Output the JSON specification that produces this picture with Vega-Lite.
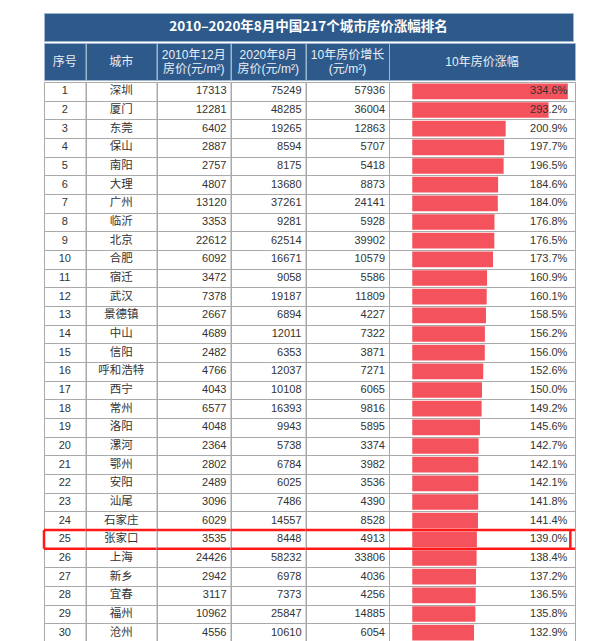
{
  "$schema": "https://vega.github.io/schema/vega-lite/v6.json",
  "padding": {"left": 42, "top": 12, "right": 32, "bottom": 2},
  "background": "white",
  "spacing": 0,
  "config": {
    "view": {"stroke": "#a9a9a9", "strokeWidth": 1},
    "concat": {"spacing": 0},
    "text": {"font": "Liberation Sans, Noto Sans CJK SC, sans-serif", "fontSize": 11, "color": "#333333"}
  },
  "datasets": {
    "rows": [
      {"rank": 1, "city": "深圳", "p2010": 17313, "p2020": 75249, "inc": 57936, "growth": 3.346},
      {"rank": 2, "city": "厦门", "p2010": 12281, "p2020": 48285, "inc": 36004, "growth": 2.932},
      {"rank": 3, "city": "东莞", "p2010": 6402, "p2020": 19265, "inc": 12863, "growth": 2.009},
      {"rank": 4, "city": "保山", "p2010": 2887, "p2020": 8594, "inc": 5707, "growth": 1.977},
      {"rank": 5, "city": "南阳", "p2010": 2757, "p2020": 8175, "inc": 5418, "growth": 1.965},
      {"rank": 6, "city": "大理", "p2010": 4807, "p2020": 13680, "inc": 8873, "growth": 1.846},
      {"rank": 7, "city": "广州", "p2010": 13120, "p2020": 37261, "inc": 24141, "growth": 1.840},
      {"rank": 8, "city": "临沂", "p2010": 3353, "p2020": 9281, "inc": 5928, "growth": 1.768},
      {"rank": 9, "city": "北京", "p2010": 22612, "p2020": 62514, "inc": 39902, "growth": 1.765},
      {"rank": 10, "city": "合肥", "p2010": 6092, "p2020": 16671, "inc": 10579, "growth": 1.737},
      {"rank": 11, "city": "宿迁", "p2010": 3472, "p2020": 9058, "inc": 5586, "growth": 1.609},
      {"rank": 12, "city": "武汉", "p2010": 7378, "p2020": 19187, "inc": 11809, "growth": 1.601},
      {"rank": 13, "city": "景德镇", "p2010": 2667, "p2020": 6894, "inc": 4227, "growth": 1.585},
      {"rank": 14, "city": "中山", "p2010": 4689, "p2020": 12011, "inc": 7322, "growth": 1.562},
      {"rank": 15, "city": "信阳", "p2010": 2482, "p2020": 6353, "inc": 3871, "growth": 1.560},
      {"rank": 16, "city": "呼和浩特", "p2010": 4766, "p2020": 12037, "inc": 7271, "growth": 1.526},
      {"rank": 17, "city": "西宁", "p2010": 4043, "p2020": 10108, "inc": 6065, "growth": 1.500},
      {"rank": 18, "city": "常州", "p2010": 6577, "p2020": 16393, "inc": 9816, "growth": 1.492},
      {"rank": 19, "city": "洛阳", "p2010": 4048, "p2020": 9943, "inc": 5895, "growth": 1.456},
      {"rank": 20, "city": "漯河", "p2010": 2364, "p2020": 5738, "inc": 3374, "growth": 1.427},
      {"rank": 21, "city": "鄂州", "p2010": 2802, "p2020": 6784, "inc": 3982, "growth": 1.421},
      {"rank": 22, "city": "安阳", "p2010": 2489, "p2020": 6025, "inc": 3536, "growth": 1.421},
      {"rank": 23, "city": "汕尾", "p2010": 3096, "p2020": 7486, "inc": 4390, "growth": 1.418},
      {"rank": 24, "city": "石家庄", "p2010": 6029, "p2020": 14557, "inc": 8528, "growth": 1.414},
      {"rank": 25, "city": "张家口", "p2010": 3535, "p2020": 8448, "inc": 4913, "growth": 1.390},
      {"rank": 26, "city": "上海", "p2010": 24426, "p2020": 58232, "inc": 33806, "growth": 1.384},
      {"rank": 27, "city": "新乡", "p2010": 2942, "p2020": 6978, "inc": 4036, "growth": 1.372},
      {"rank": 28, "city": "宜春", "p2010": 3117, "p2020": 7373, "inc": 4256, "growth": 1.365},
      {"rank": 29, "city": "福州", "p2010": 10962, "p2020": 25847, "inc": 14885, "growth": 1.358},
      {"rank": 30, "city": "沧州", "p2010": 4556, "p2020": 10610, "inc": 6054, "growth": 1.329}
    ]
  },
  "vconcat": [
    {
      "width": 529, "height": 28,
      "view": {"fill": "#2d5a8b", "stroke": "#9fb6cf"},
      "data": {"values": [{"t": "2010–2020年8月中国217个城市房价涨幅排名"}]},
      "mark": {"type": "text", "color": "#ffffff", "fontSize": 13.5, "fontWeight": "bold", "font": "Noto Sans CJK SC, sans-serif"},
      "encoding": {"text": {"field": "t"}}
    },
    {
      "hconcat": [
        {"width": 41.5, "height": 37, "view": {"fill": "#2d5a8b", "stroke": "#9fb6cf"}, "data": {"values": [{"h": "序号"}]}, "mark": {"type": "text", "color": "#e9eff6", "fontSize": 12}, "encoding": {"text": {"field": "h"}}},
        {"width": 70.5, "height": 37, "view": {"fill": "#2d5a8b", "stroke": "#9fb6cf"}, "data": {"values": [{"h": "城市"}]}, "mark": {"type": "text", "color": "#e9eff6", "fontSize": 12}, "encoding": {"text": {"field": "h"}}},
        {"width": 73.5, "height": 37, "view": {"fill": "#2d5a8b", "stroke": "#9fb6cf"}, "data": {"values": [{"l1": "2010年12月", "l2": "房价(元/m²)"}]},
          "layer": [
            {"mark": {"type": "text", "color": "#e9eff6", "fontSize": 12, "baseline": "bottom", "dy": 0}, "encoding": {"text": {"field": "l1"}}},
            {"mark": {"type": "text", "color": "#e9eff6", "fontSize": 12, "baseline": "top", "dy": 2}, "encoding": {"text": {"field": "l2"}}}
          ]},
        {"width": 74.5, "height": 37, "view": {"fill": "#2d5a8b", "stroke": "#9fb6cf"}, "data": {"values": [{"l1": "2020年8月", "l2": "房价(元/m²)"}]},
          "layer": [
            {"mark": {"type": "text", "color": "#e9eff6", "fontSize": 12, "baseline": "bottom", "dy": 0}, "encoding": {"text": {"field": "l1"}}},
            {"mark": {"type": "text", "color": "#e9eff6", "fontSize": 12, "baseline": "top", "dy": 2}, "encoding": {"text": {"field": "l2"}}}
          ]},
        {"width": 83, "height": 37, "view": {"fill": "#2d5a8b", "stroke": "#9fb6cf"}, "data": {"values": [{"l1": "10年房价增长", "l2": "(元/m²)"}]},
          "layer": [
            {"mark": {"type": "text", "color": "#e9eff6", "fontSize": 12, "baseline": "bottom", "dy": 0}, "encoding": {"text": {"field": "l1"}}},
            {"mark": {"type": "text", "color": "#e9eff6", "fontSize": 12, "baseline": "top", "dy": 2}, "encoding": {"text": {"field": "l2"}}}
          ]},
        {"width": 186, "height": 37, "view": {"fill": "#2d5a8b", "stroke": "#9fb6cf"}, "data": {"values": [{"h": "10年房价涨幅"}]}, "mark": {"type": "text", "color": "#e9eff6", "fontSize": 12}, "encoding": {"text": {"field": "h"}}}
      ],
      "spacing": 0,
      "bounds": "flush"
    },
    {
      "hconcat": [
        {
          "width": 41.5, "height": 560,
          "data": {"name": "rows"},
          "layer": [
            {"mark": {"type": "text"}, "encoding": {
              "y": {"field": "rank", "type": "ordinal", "title": null, "scale": {"type": "band", "paddingInner": 0, "paddingOuter": 0}, "axis": {"grid": true, "tickBand": "extent", "labels": false, "ticks": false, "domain": false, "gridColor": "#aaaaaa", "title": null}},
              "text": {"field": "rank", "type": "nominal"}}},
            {"transform": [{"filter": "datum.rank == 25"}], "mark": {"type": "rule", "color": "#ff1a1a", "strokeWidth": 2.5}, "encoding": {"y": {"field": "rank", "type": "ordinal", "bandPosition": 0, "title": null}}},
            {"transform": [{"filter": "datum.rank == 25"}], "mark": {"type": "rule", "color": "#ff1a1a", "strokeWidth": 2.5}, "encoding": {"y": {"field": "rank", "type": "ordinal", "bandPosition": 1, "title": null}}},
            {"transform": [{"filter": "datum.rank == 25"}], "mark": {"type": "rect", "fill": null, "stroke": "#ff1a1a", "strokeWidth": 2.5}, "encoding": {
              "y": {"field": "rank", "type": "ordinal", "title": null},
              "x": {"datum": 0, "type": "quantitative", "scale": {"domain": [0, 1]}, "axis": null},
              "x2": {"datum": 0}}}
          ]
        },
        {
          "width": 70.5, "height": 560,
          "data": {"name": "rows"},
          "layer": [
            {"mark": {"type": "text", "fontSize": 11.5, "font": "Noto Sans CJK SC, sans-serif"}, "encoding": {
              "y": {"field": "rank", "type": "ordinal", "title": null, "scale": {"type": "band", "paddingInner": 0, "paddingOuter": 0}, "axis": {"grid": true, "tickBand": "extent", "labels": false, "ticks": false, "domain": false, "gridColor": "#aaaaaa", "title": null}},
              "text": {"field": "city", "type": "nominal"}}},
            {"transform": [{"filter": "datum.rank == 25"}], "mark": {"type": "rule", "color": "#ff1a1a", "strokeWidth": 2.5}, "encoding": {"y": {"field": "rank", "type": "ordinal", "bandPosition": 0, "title": null}}},
            {"transform": [{"filter": "datum.rank == 25"}], "mark": {"type": "rule", "color": "#ff1a1a", "strokeWidth": 2.5}, "encoding": {"y": {"field": "rank", "type": "ordinal", "bandPosition": 1, "title": null}}}
          ]
        },
        {
          "width": 73.5, "height": 560,
          "data": {"name": "rows"},
          "layer": [
            {"mark": {"type": "text", "align": "right", "dx": -4}, "encoding": {
              "y": {"field": "rank", "type": "ordinal", "title": null, "scale": {"type": "band", "paddingInner": 0, "paddingOuter": 0}, "axis": {"grid": true, "tickBand": "extent", "labels": false, "ticks": false, "domain": false, "gridColor": "#aaaaaa", "title": null}},
              "x": {"datum": 1, "type": "quantitative", "scale": {"domain": [0, 1]}, "axis": null},
              "text": {"field": "p2010", "type": "quantitative", "format": "d"}}},
            {"transform": [{"filter": "datum.rank == 25"}], "mark": {"type": "rule", "color": "#ff1a1a", "strokeWidth": 2.5}, "encoding": {"y": {"field": "rank", "type": "ordinal", "bandPosition": 0, "title": null}}},
            {"transform": [{"filter": "datum.rank == 25"}], "mark": {"type": "rule", "color": "#ff1a1a", "strokeWidth": 2.5}, "encoding": {"y": {"field": "rank", "type": "ordinal", "bandPosition": 1, "title": null}}}
          ]
        },
        {
          "width": 74.5, "height": 560,
          "data": {"name": "rows"},
          "layer": [
            {"mark": {"type": "text", "align": "right", "dx": -4}, "encoding": {
              "y": {"field": "rank", "type": "ordinal", "title": null, "scale": {"type": "band", "paddingInner": 0, "paddingOuter": 0}, "axis": {"grid": true, "tickBand": "extent", "labels": false, "ticks": false, "domain": false, "gridColor": "#aaaaaa", "title": null}},
              "x": {"datum": 1, "type": "quantitative", "scale": {"domain": [0, 1]}, "axis": null},
              "text": {"field": "p2020", "type": "quantitative", "format": "d"}}},
            {"transform": [{"filter": "datum.rank == 25"}], "mark": {"type": "rule", "color": "#ff1a1a", "strokeWidth": 2.5}, "encoding": {"y": {"field": "rank", "type": "ordinal", "bandPosition": 0, "title": null}}},
            {"transform": [{"filter": "datum.rank == 25"}], "mark": {"type": "rule", "color": "#ff1a1a", "strokeWidth": 2.5}, "encoding": {"y": {"field": "rank", "type": "ordinal", "bandPosition": 1, "title": null}}}
          ]
        },
        {
          "width": 83, "height": 560,
          "data": {"name": "rows"},
          "layer": [
            {"mark": {"type": "text", "align": "right", "dx": -4}, "encoding": {
              "y": {"field": "rank", "type": "ordinal", "title": null, "scale": {"type": "band", "paddingInner": 0, "paddingOuter": 0}, "axis": {"grid": true, "tickBand": "extent", "labels": false, "ticks": false, "domain": false, "gridColor": "#aaaaaa", "title": null}},
              "x": {"datum": 1, "type": "quantitative", "scale": {"domain": [0, 1]}, "axis": null},
              "text": {"field": "inc", "type": "quantitative", "format": "d"}}},
            {"transform": [{"filter": "datum.rank == 25"}], "mark": {"type": "rule", "color": "#ff1a1a", "strokeWidth": 2.5}, "encoding": {"y": {"field": "rank", "type": "ordinal", "bandPosition": 0, "title": null}}},
            {"transform": [{"filter": "datum.rank == 25"}], "mark": {"type": "rule", "color": "#ff1a1a", "strokeWidth": 2.5}, "encoding": {"y": {"field": "rank", "type": "ordinal", "bandPosition": 1, "title": null}}}
          ]
        },
        {
          "width": 186, "height": 560,
          "data": {"name": "rows"},
          "layer": [
            {"mark": {"type": "bar", "color": "#f4525c", "height": {"band": 0.84}}, "encoding": {
              "y": {"field": "rank", "type": "ordinal", "title": null, "scale": {"type": "band", "paddingInner": 0, "paddingOuter": 0}, "axis": {"grid": true, "tickBand": "extent", "labels": false, "ticks": false, "domain": false, "gridColor": "#aaaaaa", "title": null}},
              "x": {"field": "growth", "type": "quantitative", "scale": {"domain": [-0.342, 3.4]}, "axis": null}}},
            {"mark": {"type": "text", "align": "right", "dx": -3}, "encoding": {
              "y": {"field": "rank", "type": "ordinal", "title": null},
              "x": {"datum": 3.4, "type": "quantitative"},
              "text": {"field": "growth", "type": "quantitative", "format": ".1%"}}},
            {"transform": [{"filter": "datum.rank == 25"}], "mark": {"type": "rule", "color": "#ff1a1a", "strokeWidth": 2.5}, "encoding": {"y": {"field": "rank", "type": "ordinal", "bandPosition": 0, "title": null}}},
            {"transform": [{"filter": "datum.rank == 25"}], "mark": {"type": "rule", "color": "#ff1a1a", "strokeWidth": 2.5}, "encoding": {"y": {"field": "rank", "type": "ordinal", "bandPosition": 1, "title": null}}},
            {"transform": [{"filter": "datum.rank == 25"}], "mark": {"type": "rect", "fill": null, "stroke": "#ff1a1a", "strokeWidth": 2.5}, "encoding": {
              "y": {"field": "rank", "type": "ordinal", "title": null},
              "x": {"datum": 3.4, "type": "quantitative"},
              "x2": {"datum": 3.4}}}
          ]
        }
      ],
      "spacing": 0,
      "bounds": "flush"
    }
  ]
}
